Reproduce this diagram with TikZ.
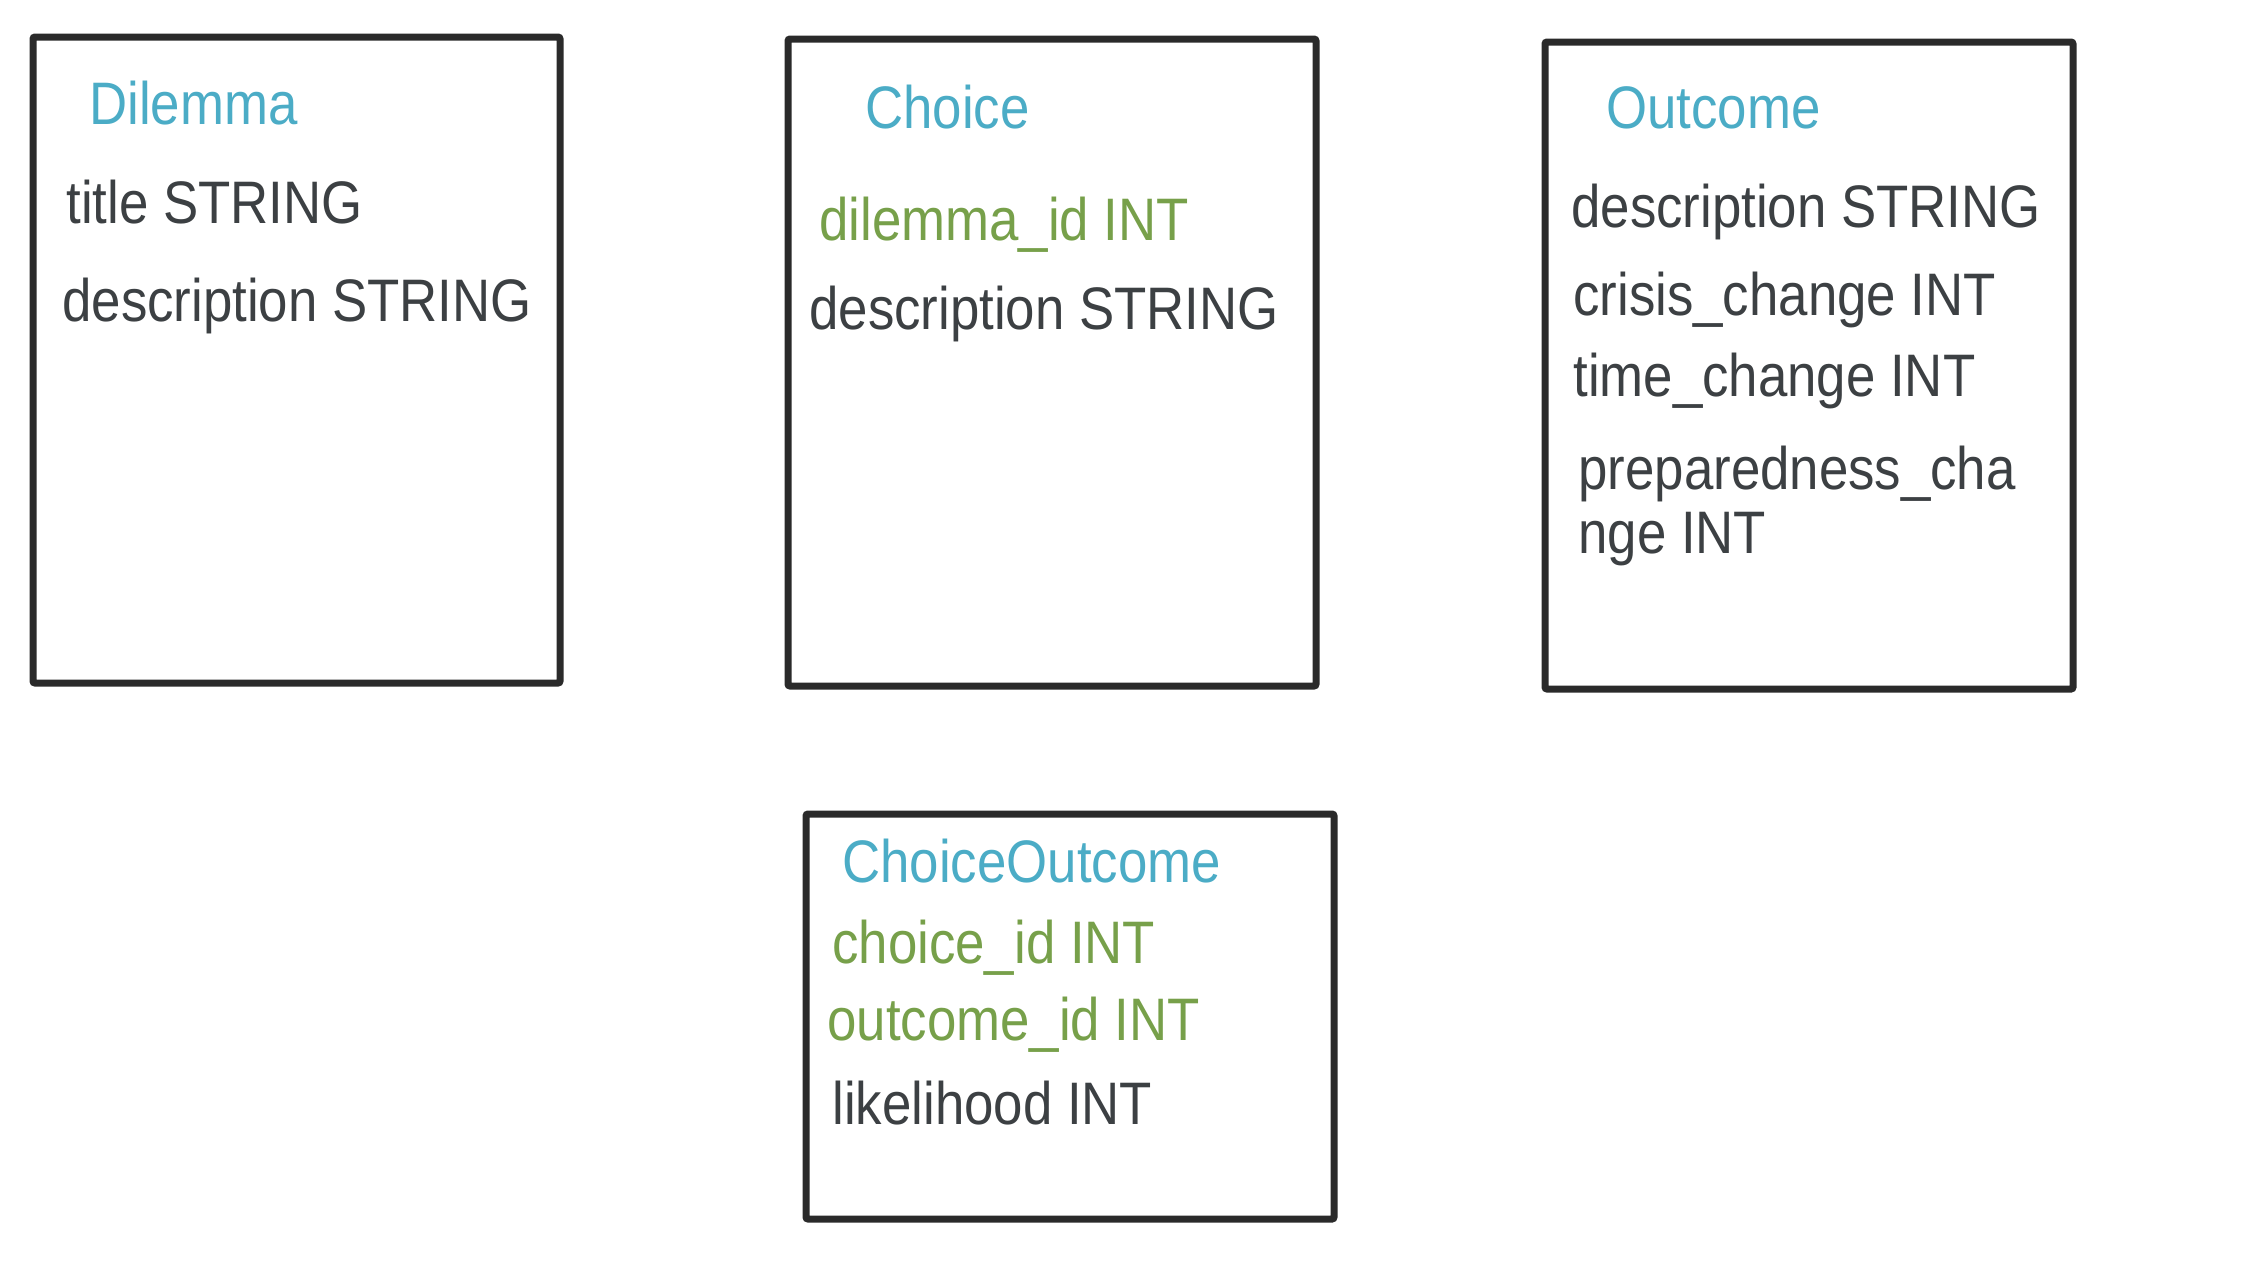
\documentclass[tikz,border=0pt]{standalone}
\usepackage{fontspec}
\setmainfont{Liberation Sans}[FakeStretch=0.88]
\definecolor{boxline}{HTML}{2A2A2A}
\definecolor{titleblue}{HTML}{4BACC6}
\definecolor{keygreen}{HTML}{77A04A}
\definecolor{fieldgray}{HTML}{3C4043}
\tikzset{
  tbox/.style={draw=boxline, line width=3.5pt, rounded corners=1pt, inner sep=0pt},
  ttitle/.style={anchor=base west, inner sep=0pt, text=titleblue, font=\fontsize{30pt}{36pt}\selectfont},
  tkey/.style={anchor=base west, inner sep=0pt, text=keygreen, font=\fontsize{30pt}{36pt}\selectfont},
  tfield/.style={anchor=base west, inner sep=0pt, text=fieldgray, font=\fontsize{30pt}{36pt}\selectfont}
}
\begin{document}
\begin{tikzpicture}[x=0.5pt, y=-0.5pt]
\useasboundingbox (0,0) rectangle (2256,1266);
% boxes
\node[tbox, minimum width=263.5pt, minimum height=323pt] (dilemma) at (296.5,360) {};
\node[tbox, minimum width=264pt, minimum height=323.5pt] (choice) at (1052,362.5) {};
\node[tbox, minimum width=264pt, minimum height=323.5pt] (outcome) at (1809,365.5) {};
\node[tbox, minimum width=264pt, minimum height=202.5pt] (choiceoutcome) at (1070,1016.5) {};
% Dilemma
\node[ttitle] (dtitle) at (89,124) {Dilemma};
\node[tfield] (dtitlef) at (66,223) {title STRING};
\node[tfield] (ddesc) at (62,321) {description STRING};
% Choice
\node[ttitle] (ctitle) at (865,128) {Choice};
\node[tkey] (cdil) at (819,240) {dilemma\_id INT};
\node[tfield] (cdesc) at (809,329) {description STRING};
% Outcome
\node[ttitle] (otitle) at (1606,128) {Outcome};
\node[tfield] (odesc) at (1571,227) {description STRING};
\node[tfield] (ocrisis) at (1573,315) {crisis\_change INT};
\node[tfield] (otime) at (1573,396) {time\_change INT};
\node[tfield] (oprep) at (1578,489) {preparedness\_cha};
\node[tfield] (oprep2) at (1578,553) {nge INT};
% ChoiceOutcome
\node[ttitle] (cotitle) at (842,882) {ChoiceOutcome};
\node[tkey] (cochoice) at (832,963) {choice\_id INT};
\node[tkey] (cooutcome) at (827,1040) {outcome\_id INT};
\node[tfield] (colike) at (832,1124) {likelihood INT};
\end{tikzpicture}
\end{document}
